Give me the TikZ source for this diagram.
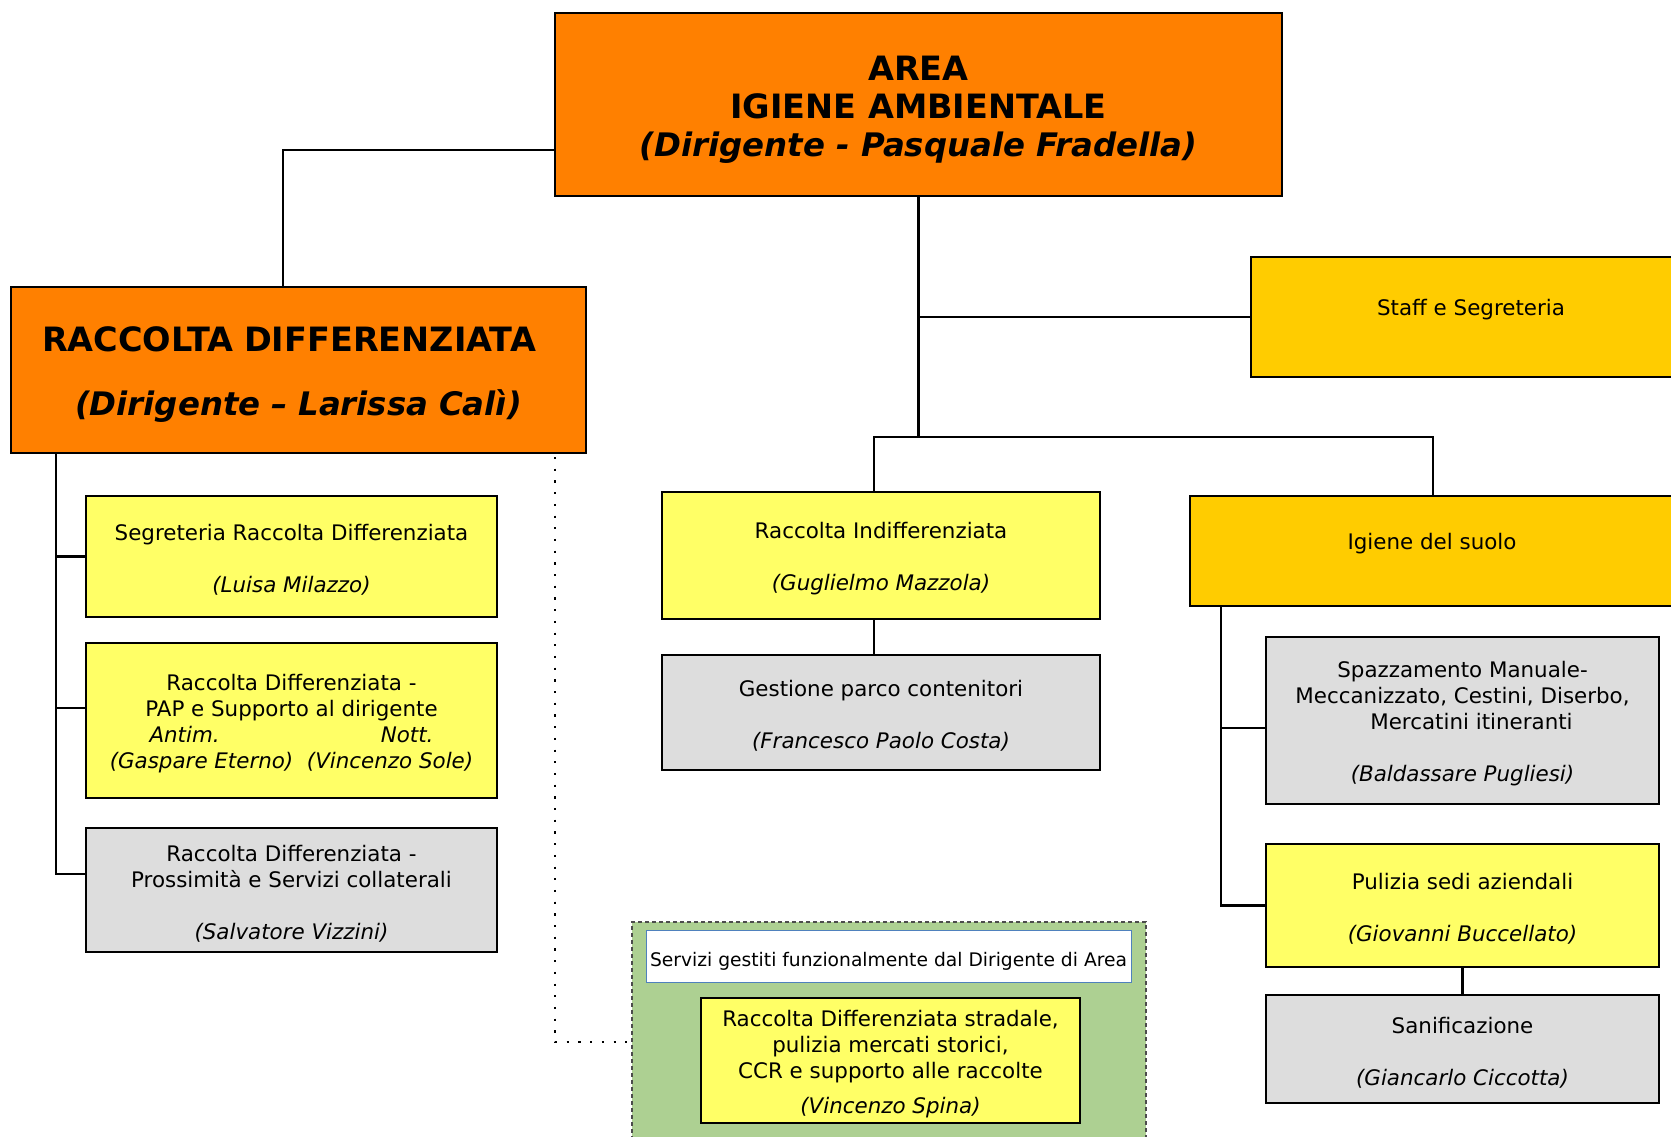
\documentclass[tikz,border=0pt]{standalone}
\usepackage{fontspec}
\setmainfont{DejaVu Sans}
\newcommand{\regf}{\fontsize{21.4}{26}\selectfont}
\newcommand{\titf}{\fontsize{32.4}{38}\selectfont\bfseries}
\newcommand{\capf}{\fontsize{33.5}{38}\selectfont}
\newcommand{\sr}{\rule{0pt}{23pt}}
\definecolor{orng}{RGB}{255,128,0}
\definecolor{gold}{RGB}{255,204,0}
\definecolor{ylw}{RGB}{255,255,102}
\definecolor{gry}{RGB}{221,221,221}
\definecolor{grn}{RGB}{173,208,146}
\definecolor{bluebd}{RGB}{79,129,189}
\tikzset{
  box/.style={draw=black, line width=2pt, inner sep=0pt, align=center, font=\regf},
  conn/.style={draw=black, line width=2.2pt},
  dotconn/.style={draw=black, line width=2.2pt, dash pattern=on 2.2pt off 9.5pt},
}
\begin{document}
\begin{tikzpicture}[x=1pt,y=-1pt]
\useasboundingbox (0,0) rectangle (1671,1136);
% green group
\node[draw=black!70, line width=1.3pt, dash pattern=on 4pt off 3pt, fill=grn, minimum width=514pt, minimum height=228pt, inner sep=0pt] (green) at (889,1036) {};
\node[draw=bluebd, line width=1pt, fill=white, minimum width=485pt, minimum height=52pt, inner sep=0pt, font=\fontsize{18.7}{22}\selectfont] (white) at (888.5,956) {\rule{0pt}{25pt}Servizi gestiti funzionalmente dal Dirigente di Area};
\node[box, fill=ylw, minimum width=379pt, minimum height=125pt] (spina) at (890.5,1060.5) {\sr Raccolta Differenziata stradale,\\ pulizia mercati storici,\\ CCR e supporto alle raccolte\\[9pt] \textit{(Vincenzo Spina)}};
% main boxes
\node[box, fill=orng, minimum width=727pt, minimum height=183pt, font=\titf] (top) at (918.5,104.5) {\rule{0pt}{35pt}{\capf AREA}\\ {\capf IGIENE AMBIENTALE}\\ \textit{(Dirigente - Pasquale Fradella)}};
\node[box, fill=orng, minimum width=575pt, minimum height=166pt, font=\titf, align=left, text width=513pt] (rd) at (298.5,370) {\rule{0pt}{33pt}{\capf RACCOLTA DIFFERENZIATA}\\[26pt] \hspace*{33pt}\textit{(Dirigente – Larissa Calì)}};
\node[box, fill=gold, minimum width=440pt, minimum height=120pt] (staff) at (1471,317) {\sr Staff e Segreteria\\ \mbox{}};
\node[box, fill=ylw, minimum width=438pt, minimum height=127pt] (ri) at (881,555.5) {\sr Raccolta Indifferenziata\\[26pt] \textit{(Guglielmo Mazzola)}};
\node[box, fill=gry, minimum width=438pt, minimum height=115pt] (gest) at (881,712.5) {\sr Gestione parco contenitori\\[26pt] \textit{(Francesco Paolo Costa)}};
\node[box, fill=gold, minimum width=484pt, minimum height=110pt] (igiene) at (1432,551) {\sr Igiene del suolo\\ \mbox{}};
\node[box, fill=gry, minimum width=393pt, minimum height=167pt] (spaz) at (1462.5,720.5) {\sr Spazzamento Manuale-\\ Meccanizzato, Cestini, Diserbo,\\ \hspace*{18pt}Mercatini itineranti\\[26pt] \textit{(Baldassare Pugliesi)}};
\node[box, fill=ylw, minimum width=393pt, minimum height=123pt] (pul) at (1462.5,905.5) {\sr Pulizia sedi aziendali\\[26pt] \textit{(Giovanni Buccellato)}};
\node[box, fill=gry, minimum width=393pt, minimum height=108pt] (sanif) at (1462.5,1049) {\sr Sanificazione\\[26pt] \textit{(Giancarlo Ciccotta)}};
\node[box, fill=ylw, minimum width=411pt, minimum height=121pt] (segr) at (291.5,556.5) {\sr Segreteria Raccolta Differenziata\\[26pt] \textit{(Luisa Milazzo)}};
\node[box, fill=ylw, minimum width=411pt, minimum height=155pt] (pap) at (291.5,720.5) {\sr Raccolta Differenziata -\\ PAP e Supporto al dirigente\\ \makebox[284pt]{\textit{Antim.}\hfill\textit{Nott.}}\\ \textit{(Gaspare Eterno)\ \ (Vincenzo Sole)}};
\node[box, fill=gry, minimum width=411pt, minimum height=124pt] (pross) at (291.5,890) {\sr Raccolta Differenziata -\\ Prossimità e Servizi collaterali\\[26pt] \textit{(Salvatore Vizzini)}};
% connectors
\coordinate (tl) at (555,150);
\coordinate (tlc) at (283,150);
\draw[conn] (tl) -- (tlc) -- (tlc |- rd.north);
\coordinate (busL) at (874,437);
\coordinate (busR) at (1433,437);
\draw[conn] (top.south) -- (top.south |- busL);
\draw[conn] (top.south |- staff.west) -- (staff.west);
\draw[conn] (busL |- ri.north) -- (busL) -- (busR) -- (busR |- igiene.north);
\draw[conn] (busL |- ri.south) -- (busL |- gest.north);
\coordinate (isp) at (1221,728);
\draw[conn] (isp |- igiene.south) -- (isp |- pul.west) -- (pul.west);
\draw[conn] (isp) -- (isp -| spaz.west);
\draw[conn] (pul.south) -- (sanif.north);
\coordinate (rsp) at (56,874);
\draw[conn] (rsp |- rd.south) -- (rsp) -- (rsp -| pross.west);
\draw[conn] (rsp |- segr.west) -- (segr.west);
\coordinate (papb) at (56,708);
\draw[conn] (papb) -- (papb -| pap.west);
\coordinate (dt) at (555,457);
\coordinate (dc) at (555,1042);
\draw[dotconn] (dt) -- (dc) -- (dc -| green.west);
\end{tikzpicture}
\end{document}
